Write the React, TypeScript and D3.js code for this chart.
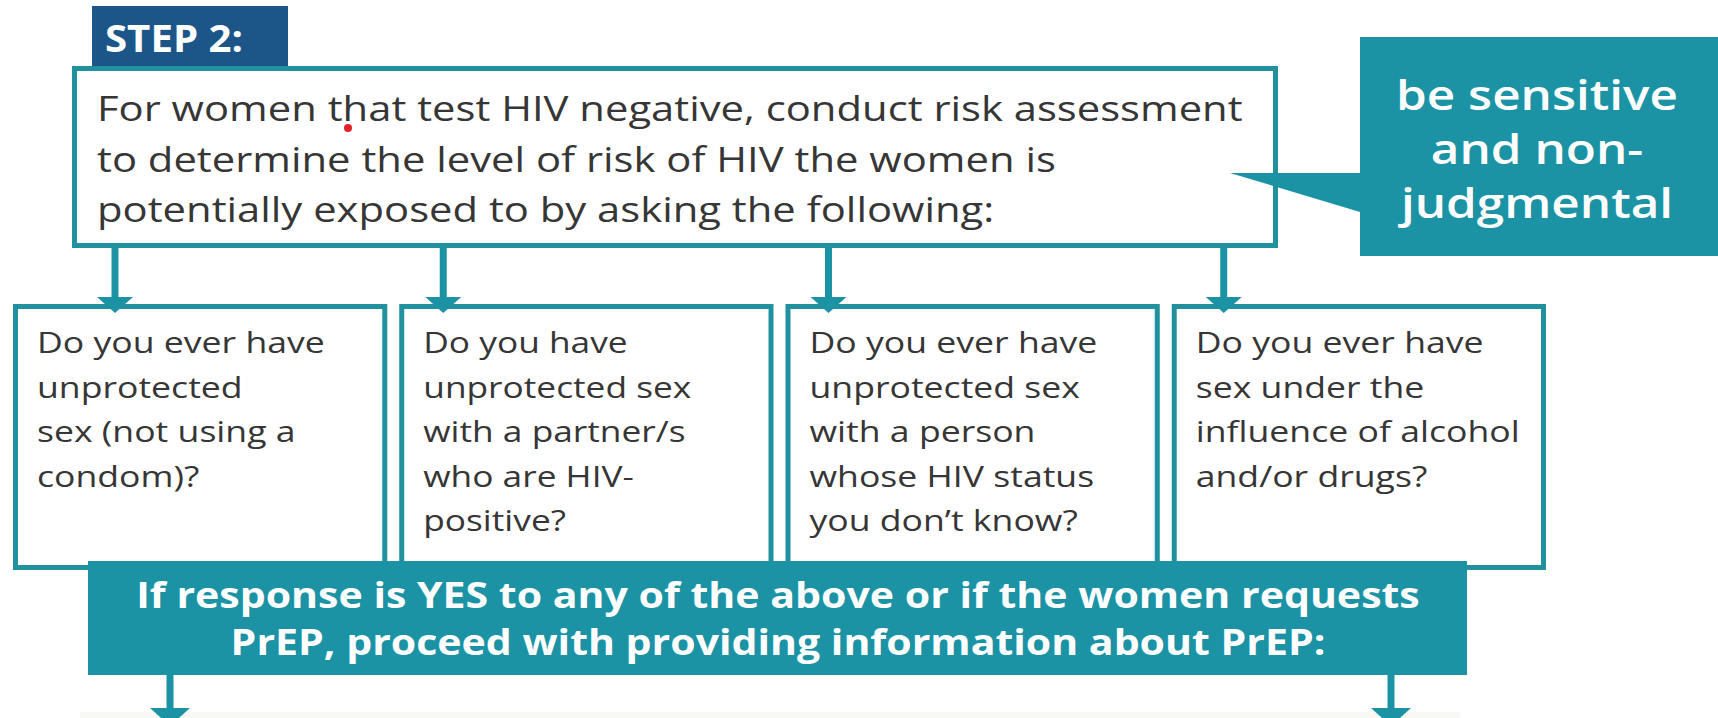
import React, { useEffect, useRef } from "react";
import * as d3 from "d3";

// text content of the flow chart
const stepLabel = ["STEP 2:"];
const introLines = [
  "For women that test HIV negative, conduct risk assessment",
  "to determine the level of risk of HIV the women is",
  "potentially exposed to by asking the following:",
];
const calloutLines = ["be sensitive", "and non-", "judgmental"];
const questionIds = ["condom", "positive", "unknown", "alcohol"];
const questionLines = [
  ["Do you ever have", "unprotected", "sex (not using a", "condom)?"],
  ["Do you have", "unprotected sex", "with a partner/s", "who are HIV-", "positive?"],
  ["Do you ever have", "unprotected sex", "with a person", "whose HIV status", "you don\u2019t know?"],
  ["Do you ever have", "sex under the", "influence of alcohol", "and/or drugs?"],
];
const bannerLines = [
  "If response is YES to any of the above or if the women requests",
  "PrEP, proceed with providing information about PrEP:",
];

const W = 1718;
const H = 718;
const TEAL = "#1b93a5";
const BORDER = "#21909f";
const NAVY = "#1c5689";
const INK = "#363636";
const FONT = "'Open Sans', 'DejaVu Sans', sans-serif";

// where each top arrow lands, measured from the left edge of its box
const arrowOffsets = [102, 44, 43, 52];

const App = () => {
  const ref = useRef<HTMLDivElement>(null);

  useEffect(() => {
    return drawChart();
  }, []);

  function drawChart() {
    const root = d3.select(ref.current);
    root.select("svg").remove();

    const svg = root
      .append("svg")
      .attr("width", W)
      .attr("height", H)
      .style("position", "absolute")
      .style("left", 0)
      .style("top", 0)
      .style("background", "#ffffff");

    // text block: lines stacked with a fixed step, stretched so that one line hits a measured width
    const textBlock = (
      lines: string[],
      o: { x: number; y: number; dy: number; size: number; weight: number; fill: string; anchor: string; target: number; refIndex?: number }
    ) => {
      const g = svg.append("g");
      const y = d3.scaleLinear().domain([0, 1]).range([o.y, o.y + o.dy]);
      const texts = g
        .selectAll("text")
        .data(lines)
        .enter()
        .append("text")
        .attr("x", 0)
        .attr("y", 0)
        .attr("text-anchor", o.anchor)
        .style("font-family", FONT)
        .style("font-size", `${o.size}px`)
        .style("font-weight", o.weight)
        .style("fill", o.fill)
        .text((d) => d);
      const node = texts.nodes()[o.refIndex ?? 0] as SVGTextElement;
      const len = node ? node.getComputedTextLength() : o.target;
      const k = len > 0 ? o.target / len : 1;
      texts.attr("transform", (_, i) => `translate(${o.x},${y(i)}) scale(${k},1)`);
      return g;
    };

    // STEP 2 tab
    svg.append("rect").attr("x", 92).attr("y", 6).attr("width", 196).attr("height", 64).style("fill", NAVY);
    textBlock(stepLabel, { x: 105, y: 52, dy: 0, size: 38, weight: 700, fill: "#ffffff", anchor: "start", target: 138 });

    // intro box
    svg
      .append("rect")
      .attr("x", 74.5)
      .attr("y", 68.5)
      .attr("width", 1201)
      .attr("height", 177)
      .style("fill", "#ffffff")
      .style("stroke", BORDER)
      .style("stroke-width", 5);
    textBlock(introLines, { x: 97, y: 121, dy: 50.5, size: 34, weight: 400, fill: INK, anchor: "start", target: 1146 });
    svg.append("circle").attr("cx", 348).attr("cy", 128).attr("r", 4).style("fill", "#e3212b");

    // callout bubble
    svg
      .append("path")
      .attr("d", "M1360,37 H1730 V256 H1360 V212 L1230,173 H1360 Z")
      .style("fill", TEAL);
    textBlock(calloutLines, { x: 1537, y: 110, dy: 54, size: 42, weight: 600, fill: "#ffffff", anchor: "middle", target: 282 });

    // question boxes
    const x = d3.scaleBand().domain(questionIds).range([13, 1546]).paddingInner(0.031);
    const boxTop = 304;
    const boxBottom = 570;

    const arrow = (cx: number, y0: number, baseY: number, tipY: number, half: number) => {
      svg
        .append("rect")
        .attr("x", cx - 3.5)
        .attr("y", y0)
        .attr("width", 7)
        .attr("height", baseY - y0 + 1)
        .style("fill", TEAL);
      svg
        .append("path")
        .attr("d", d3.line()([[cx - half, baseY], [cx + half, baseY], [cx, tipY]]) + "Z")
        .style("fill", TEAL);
    };

    questionIds.forEach((id) => {
      const left = x(id) as number;
      svg
        .append("rect")
        .attr("x", left + 2.5)
        .attr("y", boxTop + 2.5)
        .attr("width", x.bandwidth() - 5)
        .attr("height", boxBottom - boxTop - 5)
        .style("fill", "#ffffff")
        .style("stroke", BORDER)
        .style("stroke-width", 5);
    });

    questionIds.forEach((id, i) => {
      const left = x(id) as number;
      const g = textBlock(questionLines[i], {
        x: left + 24,
        y: 353,
        dy: 44.5,
        size: 29.5,
        weight: 400,
        fill: INK,
        anchor: "start",
        target: 288,
        refIndex: 0,
      });
      if (i === 1) {
        // box 2 has no "Do you ever have" line, use "unprotected sex" instead
        const t = g.selectAll<SVGTextElement, string>("text");
        const n = t.nodes()[1];
        const k = 268 / n.getComputedTextLength();
        t.attr("transform", (_, j) => `translate(${left + 24},${353 + j * 44.5}) scale(${k},1)`);
      }
      arrow(left + arrowOffsets[i], 246, 297, 313, 18);
    });

    // YES banner
    svg.append("rect").attr("x", 88).attr("y", 561).attr("width", 1379).attr("height", 114).style("fill", TEAL);
    textBlock(bannerLines, { x: 778, y: 608, dy: 47, size: 35, weight: 700, fill: "#ffffff", anchor: "middle", target: 1284 });

    // start of the next step, cut by the page edge
    svg.append("rect").attr("x", 80).attr("y", 712).attr("width", 1380).attr("height", 6).style("fill", "#f8f8f4");
    arrow(170, 675, 708, 726, 20);
    arrow(1391, 675, 708, 726, 20);

    return () => {
      root.select("svg").remove();
    };
  }

  return <div ref={ref} style={{ width: W, height: H }} />;
};

export default App;
